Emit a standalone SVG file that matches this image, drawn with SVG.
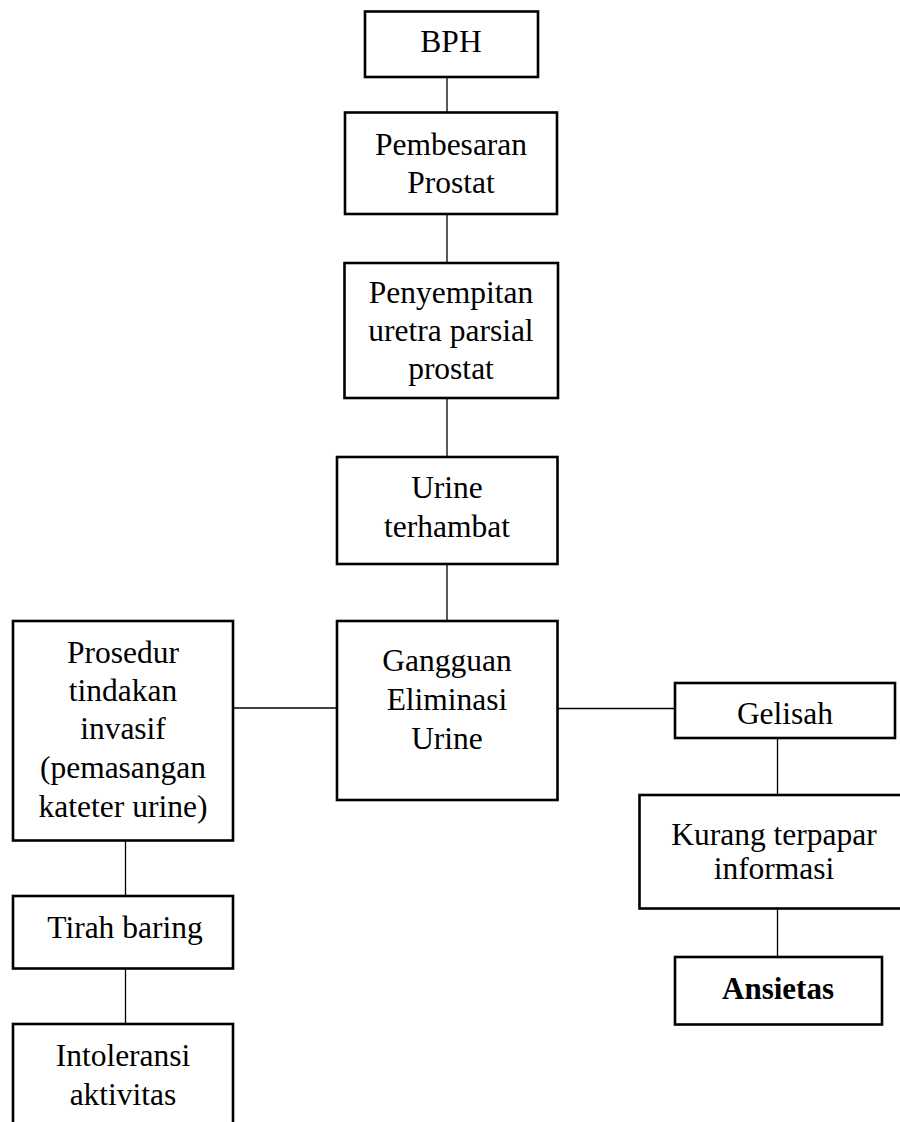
<svg xmlns="http://www.w3.org/2000/svg" width="900" height="1122" viewBox="0 0 900 1122">
<style>
.box{fill:#fff;stroke:#000;stroke-width:2.6}
.t{font-family:"Liberation Serif","Times New Roman",serif;font-size:31.5px;fill:#000;text-anchor:middle}
.b{font-weight:bold;font-size:31px}
.c line{stroke:#000;stroke-width:1.3}
</style>
<rect width="900" height="1122" fill="#fff"/>
<g class="c" id="connectors">
<line x1="447" y1="77" x2="447" y2="113"/>
<line x1="447" y1="214" x2="447" y2="263"/>
<line x1="447" y1="398" x2="447" y2="457"/>
<line x1="447" y1="564" x2="447" y2="621"/>
<line x1="233" y1="708" x2="337" y2="708"/>
<line x1="558" y1="708.5" x2="675" y2="708.5"/>
<line x1="777.5" y1="738" x2="777.5" y2="795"/>
<line x1="777.5" y1="908.5" x2="777.5" y2="957"/>
<line x1="125.5" y1="841" x2="125.5" y2="896"/>
<line x1="125.5" y1="968" x2="125.5" y2="1024"/>
</g>
<g id="bph"><rect class="box" x="365" y="11.5" width="173" height="65.5"/><text class="t" x="451" y="52">BPH</text></g>
<g id="pembesaran"><rect class="box" x="345" y="112.5" width="212" height="101.5"/><text class="t" x="451" y="155">Pembesaran</text><text class="t" x="451" y="193">Prostat</text></g>
<g id="penyempitan"><rect class="box" x="344.5" y="263" width="213.5" height="135"/><text class="t" x="451" y="303">Penyempitan</text><text class="t" x="451" y="341">uretra parsial</text><text class="t" x="451" y="379">prostat</text></g>
<g id="urine-terhambat"><rect class="box" x="337" y="457" width="220.5" height="107"/><text class="t" x="447" y="497.5">Urine</text><text class="t" x="447" y="536.5">terhambat</text></g>
<g id="gangguan"><rect class="box" x="337" y="621" width="220.5" height="179"/><text class="t" x="447" y="671">Gangguan</text><text class="t" x="447" y="710">Eliminasi</text><text class="t" x="447" y="748.5">Urine</text></g>
<g id="prosedur"><rect class="box" x="13" y="621" width="220" height="219.5"/><text class="t" x="123" y="662.5">Prosedur</text><text class="t" x="123" y="700.5">tindakan</text><text class="t" x="123" y="739">invasif</text><text class="t" x="123" y="778">(pemasangan</text><text class="t" x="123" y="816.5">kateter urine)</text></g>
<g id="gelisah"><rect class="box" x="675" y="683" width="220" height="55"/><text class="t" x="785" y="723.5">Gelisah</text></g>
<g id="kurang-terpapar"><rect class="box" x="639.5" y="795" width="275" height="113.5"/><text class="t" x="774" y="845">Kurang terpapar</text><text class="t" x="774" y="879">informasi</text></g>
<g id="ansietas"><rect class="box" x="675" y="957" width="207" height="67.5"/><text class="t b" x="778" y="998.5">Ansietas</text></g>
<g id="tirah-baring"><rect class="box" x="13" y="896" width="220" height="72.5"/><text class="t" x="125" y="938">Tirah baring</text></g>
<g id="intoleransi"><rect class="box" x="13" y="1024" width="220" height="120"/><text class="t" x="123" y="1066">Intoleransi</text><text class="t" x="123" y="1105">aktivitas</text></g>
</svg>
